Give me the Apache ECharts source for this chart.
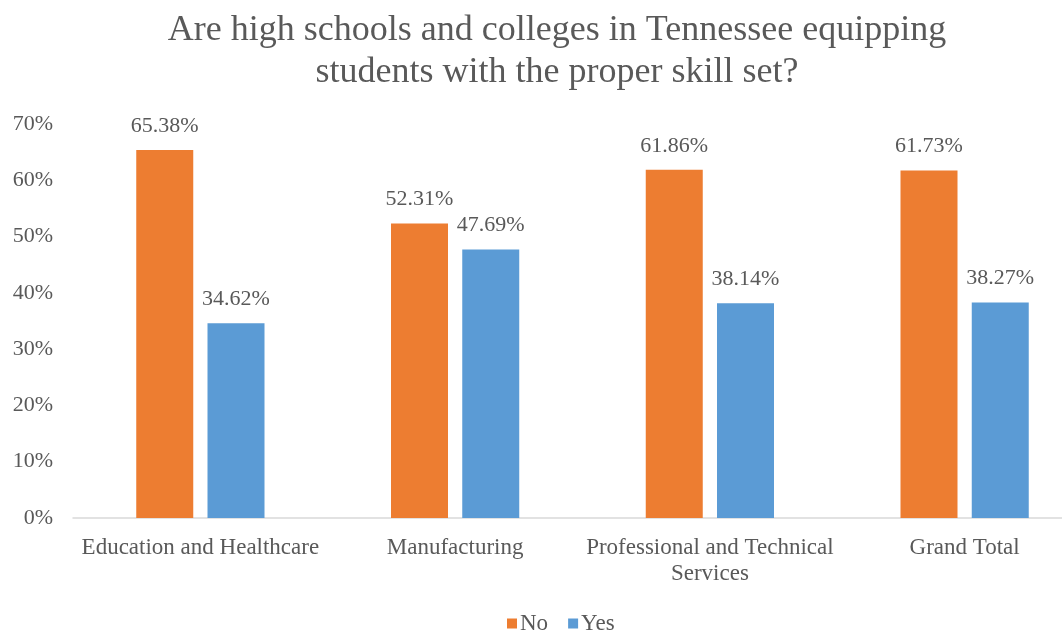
<!DOCTYPE html>
<html>
<head>
<meta charset="utf-8">
<script src="https://cdn.jsdelivr.net/npm/echarts@6/dist/echarts.min.js"></script>
<style>
html,body{margin:0;padding:0;background:#fff;overflow:hidden;width:1062px;height:632px;}
#chart{width:1100px;height:632px;}
</style>
</head>
<body>
<div id="chart"></div>
<script>
const categories = ['Education and Healthcare', 'Manufacturing', 'Professional and Technical\nServices', 'Grand Total'];
const noValues = [65.38, 52.31, 61.86, 61.73];
const yesValues = [34.62, 47.69, 38.14, 38.27];
const seriesNames = ['No', 'Yes'];
const titleLines = 'Are high schools and colleges in Tennessee equipping\nstudents with the proper skill set?';

const FONT = '"Liberation Serif", "Times New Roman", serif';
const TEXT = '#595959';

const chart = echarts.init(document.getElementById('chart'), null, {renderer: 'canvas'});
const labelCfg = {
  show: true, position: 'top', distance: 13,
  color: TEXT, fontFamily: FONT, fontSize: 22,
  formatter: p => p.value.toFixed(2) + '%'
};
chart.setOption({
  backgroundColor: '#fff',
  animation: false,
  graphic: [{
    type: 'text', x: 557, y: 10,
    style: {
      text: titleLines, textAlign: 'center', fill: TEXT,
      font: '36px ' + FONT, lineHeight: 42
    }
  }],
  legend: {
    data: seriesNames, left: 502, top: 607,
    icon: 'rect', itemWidth: 10, itemHeight: 10, itemGap: 20,
    textStyle: {color: TEXT, fontFamily: FONT, fontSize: 23, padding: [0, 0, 0, -2]}
  },
  grid: {left: 73, right: 8, top: 124, height: 394, containLabel: false},
  xAxis: {
    type: 'category', data: categories,
    axisLine: {lineStyle: {color: '#D9D9D9', width: 1.5}},
    axisTick: {show: false},
    axisLabel: {color: TEXT, fontFamily: FONT, fontSize: 23, margin: 17, lineHeight: 26, interval: 0}
  },
  yAxis: {
    type: 'value', min: 0, max: 70, interval: 10,
    axisLine: {show: false}, axisTick: {show: false},
    splitLine: {show: false},
    axisLabel: {color: TEXT, fontFamily: FONT, fontSize: 22, margin: 20, formatter: '{value}%'}
  },
  series: [
    {name: seriesNames[0], type: 'bar', data: noValues, barWidth: 57, barGap: '25%',
     itemStyle: {color: '#ED7D31'}, label: labelCfg},
    {name: seriesNames[1], type: 'bar', data: yesValues, barWidth: 57, barGap: '25%',
     itemStyle: {color: '#5B9BD5'}, label: labelCfg}
  ]
});
</script>
</body>
</html>
